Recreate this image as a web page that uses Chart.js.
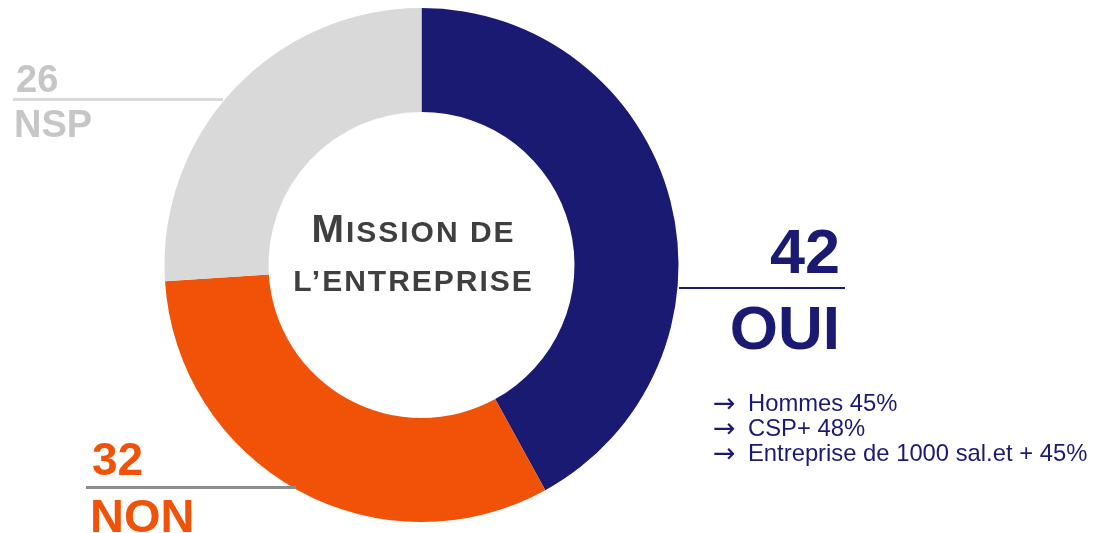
<!DOCTYPE html>
<html lang="fr">
<head>
    <meta charset="UTF-8">
    <title>Mission de l'entreprise</title>
    <script src="https://cdn.jsdelivr.net/npm/chart.js@4.4.1/dist/chart.umd.min.js"></script>
    <style>
        html, body {
            margin: 0;
            padding: 0;
            background: #ffffff;
        }
        #wrap {
            position: relative;
            width: 1095px;
            height: 533px;
            overflow: hidden;
            font-family: "Liberation Sans", Arial, sans-serif;
        }
        #donut {
            position: absolute;
            left: 0;
            top: 0;
        }
        .lbl {
            position: absolute;
            font-weight: bold;
            line-height: 1;
            white-space: nowrap;
        }
        .rule {
            position: absolute;
        }
        #center {
            position: absolute;
            left: 213px;
            width: 401px;
            text-align: center;
            font-weight: bold;
            color: #3f3f3f;
            letter-spacing: 2px;
            white-space: nowrap;
        }
        #notes {
            position: absolute;
            left: 713px;
            top: 390px;
            color: #1b1a72;
            font-size: 23.8px;
            line-height: 25px;
            white-space: nowrap;
        }
        #notes .arrow {
            display: inline-block;
            width: 35px;
            font-family: "DejaVu Sans", sans-serif;
            font-size: 27px;
            line-height: 25px;
            vertical-align: top;
            position: relative;
            top: 0;
        }
    </style>
</head>
<body>
<div id="wrap">
    <canvas id="donut" width="1095" height="533"></canvas>
    <div id="center">
        <div style="position:absolute;left:0;right:0;top:209px;font-size:39px;line-height:1"><span>M</span><span style="font-size:30px">ISSION DE</span></div>
        <div style="position:absolute;left:0;right:0;top:266px;font-size:30px;line-height:1">L’ENTREPRISE</div>
    </div>
    <div id="notes"></div>
</div>

<script>
    // Réponses (en %)
    const labels = ['OUI', 'NON', 'NSP'];
    const values = [42, 32, 26];
    const colors = ['#1b1a72', '#f05308', '#d9d9d9'];
    const textColors = ['#1b1a72', '#f05308', '#c6c6c6'];

    // Détail des OUI
    const notes = ['Hommes 45%', 'CSP+ 48%', 'Entreprise de 1000 sal.et + 45%'];

    new Chart(document.getElementById('donut'), {
        type: 'doughnut',
        data: {
            labels: labels,
            datasets: [{
                data: values,
                backgroundColor: colors,
                borderWidth: 0,
                offset: 0,
                hoverOffset: 0
            }]
        },
        options: {
            responsive: false,
            animation: false,
            radius: 257,
            cutout: 153,
            rotation: 0,
            layout: {
                padding: { left: 164, right: 416, top: 8, bottom: 11 }
            },
            plugins: {
                legend: { display: false },
                tooltip: { enabled: false }
            },
            events: []
        }
    });

    // Etiquettes : valeur au-dessus du trait, libellé en dessous
    const wrap = document.getElementById('wrap');
    const place = [
        // OUI
        { value: { right: 255, top: 220, size: 63 }, name: { right: 255, top: 297, size: 62 },
          rule: { left: 679, top: 287, width: 166, height: 2, color: '#1b1a72' } },
        // NON
        { value: { left: 92, top: 436, size: 46 }, name: { left: 90, top: 492, size: 47 },
          rule: { left: 86, top: 486, width: 210, height: 3, color: '#8c8c8c' } },
        // NSP
        { value: { left: 16, top: 60, size: 38 }, name: { left: 14, top: 105, size: 38 },
          rule: { left: 13, top: 98, width: 210, height: 3, color: '#d9d9d9' } }
    ];

    function addText(text, pos, color) {
        const el = document.createElement('div');
        el.className = 'lbl';
        el.textContent = text;
        el.style.fontSize = pos.size + 'px';
        el.style.top = pos.top + 'px';
        el.style.color = color;
        if (pos.right !== undefined) el.style.right = pos.right + 'px';
        else el.style.left = pos.left + 'px';
        wrap.appendChild(el);
    }

    labels.forEach((name, i) => {
        const p = place[i];
        const r = document.createElement('div');
        r.className = 'rule';
        r.style.left = p.rule.left + 'px';
        r.style.top = p.rule.top + 'px';
        r.style.width = p.rule.width + 'px';
        r.style.height = p.rule.height + 'px';
        r.style.background = p.rule.color;
        wrap.appendChild(r);
        addText(String(values[i]), p.value, textColors[i]);
        addText(name, p.name, textColors[i]);
    });

    const notesEl = document.getElementById('notes');
    notes.forEach(n => {
        const line = document.createElement('div');
        line.innerHTML = '<span class="arrow">→</span>';
        line.appendChild(document.createTextNode(n));
        notesEl.appendChild(line);
    });
</script>
</body>
</html>
